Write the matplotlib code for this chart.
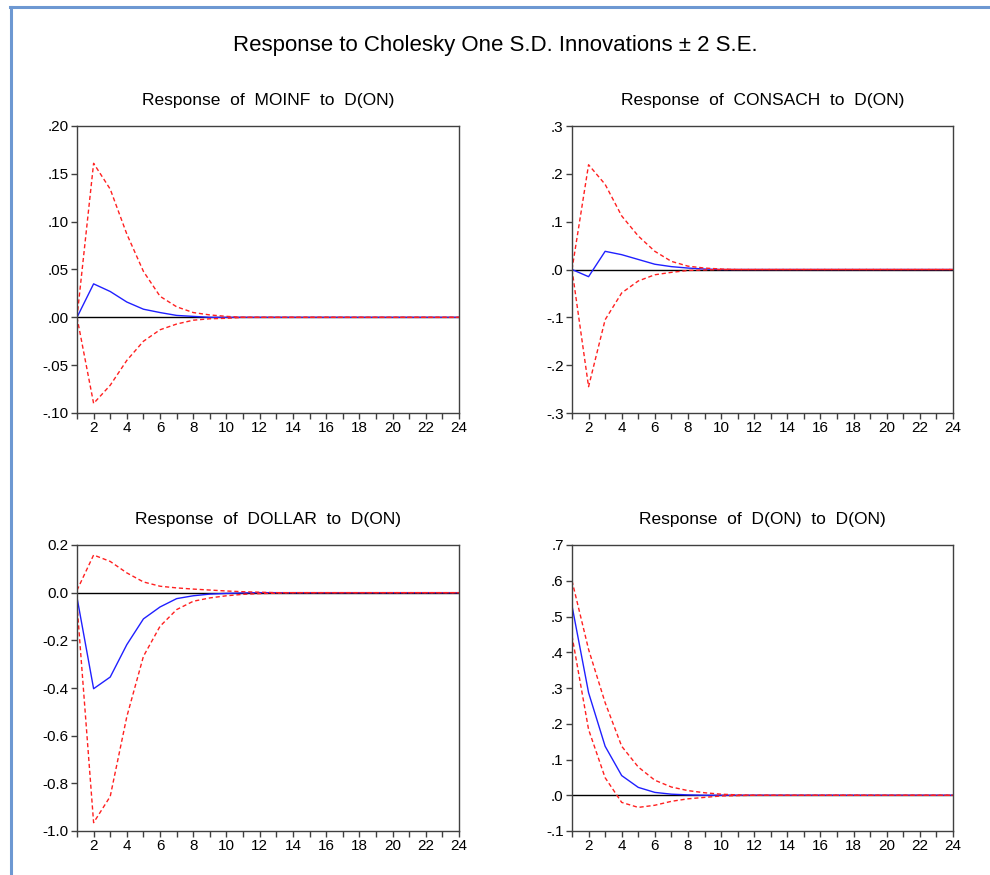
import numpy as np
import matplotlib.pyplot as plt
from matplotlib.lines import Line2D

plt.rcParams["font.family"] = ["Liberation Sans", "DejaVu Sans"]

PERIODS = np.arange(1, 25)

# responses, periods 1..24 (zeros after they die out)
MOINF_RESP = [0.0, 0.035, 0.027, 0.016, 0.0085, 0.005, 0.002, 0.001]
MOINF_UP = [0.0, 0.161, 0.134, 0.087, 0.048, 0.022, 0.011, 0.005, 0.0025, 0.001]
MOINF_LO = [0.0, -0.090, -0.071, -0.045, -0.025, -0.013, -0.007, -0.003, -0.0015, -0.001]

CONSACH_RESP = [0.0, -0.015, 0.038, 0.031, 0.021, 0.011, 0.006, 0.003, 0.001]
CONSACH_UP = [0.0, 0.219, 0.178, 0.112, 0.070, 0.038, 0.017, 0.007, 0.003, 0.001]
CONSACH_LO = [0.0, -0.245, -0.105, -0.049, -0.024, -0.011, -0.006, -0.002, -0.001]

DOLLAR_RESP = [-0.02, -0.403, -0.354, -0.218, -0.110, -0.060, -0.025, -0.013, -0.006, -0.003, -0.001]
DOLLAR_UP = [0.01, 0.158, 0.131, 0.083, 0.045, 0.027, 0.020, 0.015, 0.011, 0.007, 0.004, 0.002]
DOLLAR_LO = [-0.05, -0.965, -0.855, -0.520, -0.267, -0.141, -0.071, -0.036, -0.022, -0.013, -0.007, -0.004, -0.002]

DON_RESP = [0.53, 0.287, 0.137, 0.055, 0.022, 0.008, 0.003, 0.001]
DON_UP = [0.60, 0.408, 0.259, 0.137, 0.079, 0.042, 0.023, 0.013, 0.007, 0.003, 0.001]
DON_LO = [0.446, 0.184, 0.049, -0.020, -0.034, -0.028, -0.017, -0.010, -0.006, -0.002, -0.001]

TITLES = [
    "Response of MOINF to D(ON)",
    "Response of CONSACH to D(ON)",
    "Response of DOLLAR to D(ON)",
    "Response of D(ON) to D(ON)",
]

YTICKS = [
    [-0.10, -0.05, 0.00, 0.05, 0.10, 0.15, 0.20],
    [-0.3, -0.2, -0.1, 0.0, 0.1, 0.2, 0.3],
    [-1.0, -0.8, -0.6, -0.4, -0.2, 0.0, 0.2],
    [-0.1, 0.0, 0.1, 0.2, 0.3, 0.4, 0.5, 0.6, 0.7],
]
YLABELS = [
    ["-.10", "-.05", ".00", ".05", ".10", ".15", ".20"],
    ["-.3", "-.2", "-.1", ".0", ".1", ".2", ".3"],
    ["-1.0", "-0.8", "-0.6", "-0.4", "-0.2", "0.0", "0.2"],
    ["-.1", ".0", ".1", ".2", ".3", ".4", ".5", ".6", ".7"],
]

SERIES = [
    (MOINF_RESP, MOINF_UP, MOINF_LO),
    (CONSACH_RESP, CONSACH_UP, CONSACH_LO),
    (DOLLAR_RESP, DOLLAR_UP, DOLLAR_LO),
    (DON_RESP, DON_UP, DON_LO),
]

W, H = 990, 875
# axes boxes in pixels: left, top, right, bottom
BOXES = [(77, 126, 459, 413), (572, 126, 953, 413),
         (77, 545, 459, 831), (572, 545, 953, 831)]


def pad(vals):
    out = np.zeros(len(PERIODS))
    out[:len(vals)] = vals
    return out


fig = plt.figure(figsize=(W / 100, H / 100), dpi=100)

# window frame
fig.add_artist(Line2D([11 / W, 11 / W], [0, 1 - 7 / H], color="#6d98d2", lw=2.2))
fig.add_artist(Line2D([10 / W, 1], [1 - 7 / H, 1 - 7 / H], color="#6d98d2", lw=2.2))

fig.text(495 / W, 1 - 46 / H, "Response to Cholesky One S.D. Innovations \u00b1 2 S.E.",
         ha="center", va="center", fontsize=16)

for i, (l, t, r, b) in enumerate(BOXES):
    ax = fig.add_axes([l / W, 1 - b / H, (r - l) / W, (b - t) / H])
    resp, up, lo = SERIES[i]
    ax.axhline(0, color="black", lw=1)
    ax.plot(PERIODS, pad(resp), color="#2020ff", lw=1)
    ax.plot(PERIODS, pad(up), color="#ff2020", lw=1, dashes=(3, 2))
    ax.plot(PERIODS, pad(lo), color="#ff2020", lw=1, dashes=(3, 2))

    ax.set_xlim(1, 24)
    ax.set_ylim(YTICKS[i][0], YTICKS[i][-1])
    ax.set_xticks(PERIODS)
    ax.set_xticklabels([str(p) if p % 2 == 0 else "" for p in PERIODS])
    ax.set_yticks(YTICKS[i])
    ax.set_yticklabels(YLABELS[i])
    ax.tick_params(direction="out", length=4, width=1, labelsize=11,
                   color="#404040", pad=2)
    for s in ax.spines.values():
        s.set_color("#404040")
        s.set_linewidth(1)
    ax.set_title(TITLES[i].replace(" ", "  "), fontsize=12.5, pad=15)

fig.savefig("out.png", dpi=100)
